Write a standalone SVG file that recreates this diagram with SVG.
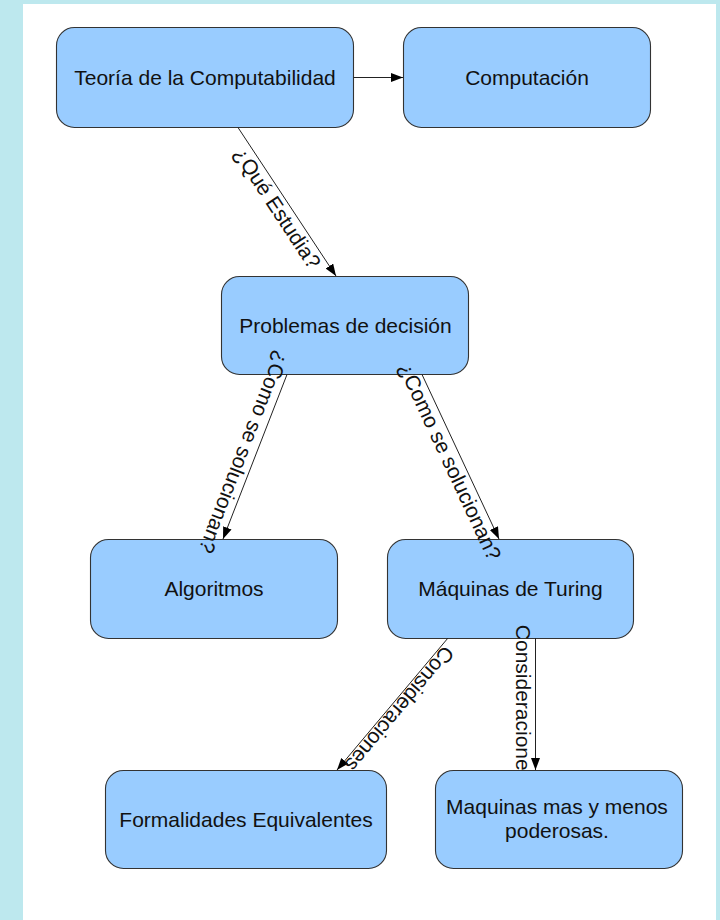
<svg xmlns="http://www.w3.org/2000/svg" width="720" height="920" viewBox="0 0 720 920">
  <defs>
    <marker id="arrow" markerUnits="userSpaceOnUse" markerWidth="13" markerHeight="10" refX="12" refY="4.5" orient="auto">
      <path d="M0,0 L12,4.5 L0,9 z" fill="#000"/>
    </marker>
    <style>
      .box { fill: #99ccff; stroke: #333; stroke-width: 1.1; }
      .txt { font-family: "Liberation Sans", Arial, sans-serif; font-size: 21px; fill: #111; text-anchor: middle; }
      .edge { stroke: #222; stroke-width: 1; fill: none; marker-end: url(#arrow); }
    </style>
  </defs>

  <!-- page frame -->
  <rect x="0" y="0" width="720" height="920" fill="#bde8ee"/>
  <rect x="23" y="4" width="693" height="916" fill="#ffffff"/>

  <g id="n-teoria">
    <rect class="box" x="56.5" y="27.5" width="297" height="100" rx="18"/>
    <text class="txt" x="205" y="84.5">Teoría de la Computabilidad</text>
  </g>
  <g id="n-computacion">
    <rect class="box" x="403.5" y="27.5" width="247" height="100" rx="18"/>
    <text class="txt" x="527" y="84.5">Computación</text>
  </g>
  <g id="n-problemas">
    <rect class="box" x="221.5" y="276.5" width="247" height="98" rx="18"/>
    <text class="txt" x="345.5" y="332.5">Problemas de decisión</text>
  </g>
  <g id="n-algoritmos">
    <rect class="box" x="90.5" y="539.5" width="247" height="99" rx="18"/>
    <text class="txt" x="214" y="596">Algoritmos</text>
  </g>
  <g id="n-turing">
    <rect class="box" x="387.5" y="539.5" width="246" height="99" rx="18"/>
    <text class="txt" x="510.5" y="596">Máquinas de Turing</text>
  </g>

  <!-- connectors and their labels -->
  <g id="connectors">
    <line class="edge" x1="353.5" y1="77.5" x2="403" y2="77.5"/>
    <line class="edge" x1="238" y1="127.5" x2="336" y2="276"/>
    <line class="edge" x1="287" y1="374.5" x2="223" y2="539"/>
    <line class="edge" x1="422" y1="374.5" x2="499" y2="539"/>
    <line class="edge" x1="448" y1="638" x2="337" y2="770"/>
    <line class="edge" x1="535.5" y1="638" x2="535.5" y2="770"/>

    <text class="txt" transform="translate(287 201.5) rotate(56.66)" y="19">¿Qué Estudia?</text>
    <text class="txt" transform="translate(255 456.5) rotate(111.2)" y="19">¿Como se solucionan?</text>
    <text class="txt" transform="translate(460.5 456.5) rotate(65)" y="19">¿Como se solucionan?</text>
    <text class="txt" transform="translate(392.5 703) rotate(130.06)" y="-2">Consideraciones</text>
    <text class="txt" transform="translate(535 703) rotate(90)" y="19">Consideraciones</text>
  </g>

  <g id="n-formalidades">
    <rect class="box" x="105.5" y="770.5" width="281" height="98" rx="18"/>
    <text class="txt" x="246" y="826.5">Formalidades Equivalentes</text>
  </g>
  <g id="n-maquinas">
    <rect class="box" x="435.5" y="770.5" width="247" height="98" rx="18"/>
    <text class="txt" x="557" y="814">Maquinas mas y menos</text>
    <text class="txt" x="557" y="838">poderosas.</text>
  </g>
</svg>
